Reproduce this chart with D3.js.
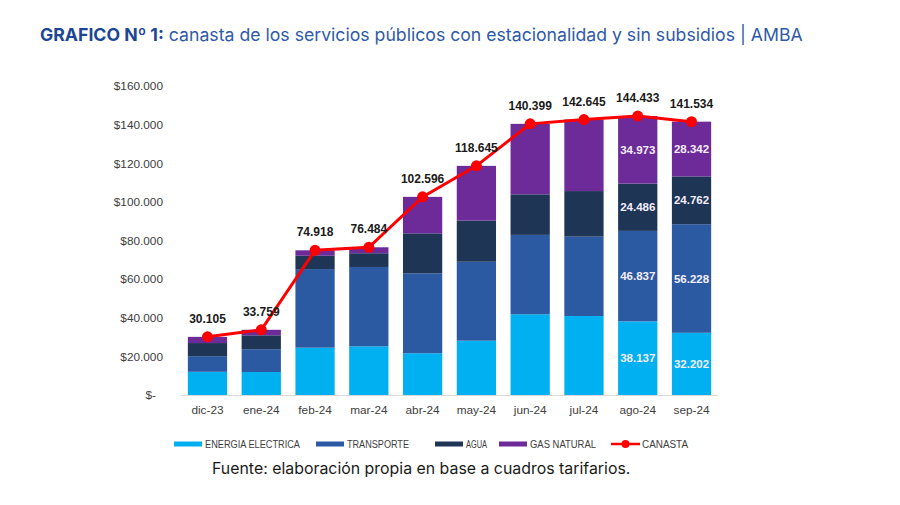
<!DOCTYPE html>
<html>
<head>
<meta charset="utf-8">
<script src="https://cdn.jsdelivr.net/npm/d3@7/dist/d3.min.js"></script>
<style>
  html, body { margin: 0; padding: 0; background: #fff; }
  svg { display: block; }
</style>
</head>
<body>
<div id="chart"></div>
<script>
// ---- data ----
var months = ['dic-23','ene-24','feb-24','mar-24','abr-24','may-24','jun-24','jul-24','ago-24','sep-24'];
var energia    = [12.0, 11.9, 24.5, 25.2, 21.6, 28.1, 41.8, 40.9, 38.137, 32.202];
var transporte = [8.1, 11.8, 40.7, 41.1, 41.4, 40.9, 41.1, 41.1, 46.837, 56.228];
var agua       = [6.8, 7.2, 6.9, 7.1, 20.7, 21.3, 21.0, 23.6, 24.486, 24.762];
var gas        = [3.205, 2.859, 2.818, 3.084, 18.896, 28.345, 36.499, 37.045, 34.973, 28.342];
var canasta    = [30.105, 33.759, 74.918, 76.484, 102.596, 118.645, 140.399, 142.645, 144.433, 141.534];
var yTicks = [0, 20, 40, 60, 80, 100, 120, 140, 160];
var labelledMonths = ['ago-24', 'sep-24'];   // only these show segment values

var seriesNames = ['ENERGIA ELECTRICA', 'TRANSPORTE', 'AGUA', 'GAS NATURAL'];
var seriesData = [energia, transporte, agua, gas];
var colors = ['#00b0f0', '#2b5aa3', '#1e3555', '#6c2b99'];
var RED = '#ff0000';

var W = 900, H = 505;
var svg = d3.select('#chart').append('svg').attr('width', W).attr('height', H);

var fmt = function (v) { return d3.format(',.3f')(v).replace(',', '.'); };  // 30.105 style
var fmtTick = function (v) { return v === 0 ? '$-' : '$' + v + '.000'; };

// fit a text node to a target width by adjusting font-size
function fitWidth(sel, target) {
  var w = sel.node().getComputedTextLength();
  var fs = parseFloat(sel.attr('font-size'));
  sel.attr('font-size', fs * target / w);
}

// ---- title ----
var title = svg.append('text').attr('x', 40).attr('y', 41)
  .attr('font-family', 'Inter, "Noto Sans", sans-serif').attr('font-size', 16);
title.append('tspan').attr('font-weight', 700).attr('fill', '#1d4694').text('GRAFICO Nº 1:');
title.append('tspan').attr('fill', '#2f5aa8').text(' canasta de los servicios públicos con estacionalidad y sin subsidios | AMBA');
fitWidth(title, 763);

// ---- scales ----
var x = d3.scaleBand().domain(months).range([187.85, 711.15]).paddingInner(0.27).paddingOuter(0);
var y = d3.scaleLinear().domain([0, 160]).range([395, 86]);

// y axis labels
var yAxis = svg.append('g').attr('transform', 'translate(163,0)')
  .call(d3.axisLeft(y).tickValues(yTicks).tickFormat(fmtTick).tickSize(0).tickPadding(0));
yAxis.select('.domain').remove();
yAxis.selectAll('text')
  .attr('font-family', '"Liberation Sans", Arial, sans-serif').attr('font-size', 11.8)
  .attr('fill', '#404040')
  .attr('dx', function (d) { return d === 0 ? -7 : 0; });

// ---- stacked bars ----
var rows = months.map(function (m, i) {
  var r = { month: m };
  seriesNames.forEach(function (s, k) { r[s] = seriesData[k][i]; });
  return r;
});
var stack = d3.stack().keys(seriesNames)(rows);

var layers = svg.append('g').selectAll('g').data(stack).join('g')
  .attr('fill', function (d, i) { return colors[i]; });
layers.selectAll('rect').data(function (d) { return d; }).join('rect')
  .attr('x', function (d) { return x(d.data.month); })
  .attr('width', x.bandwidth())
  .attr('y', function (d) { return y(d[1]); })
  .attr('height', function (d) { return y(d[0]) - y(d[1]); });

// segment value labels (ago-24, sep-24)
layers.selectAll('text').data(function (d) {
  return d.filter(function (p) { return labelledMonths.indexOf(p.data.month) >= 0; })
    .map(function (p) { return { p: p, key: d.key }; });
}).join('text')
  .attr('x', function (d) { return x(d.p.data.month) + x.bandwidth() / 2; })
  .attr('y', function (d) { return (y(d.p[0]) + y(d.p[1])) / 2; })
  .attr('dy', '0.36em')
  .attr('text-anchor', 'middle')
  .attr('font-family', '"Liberation Sans", Arial, sans-serif').attr('font-size', 11.5)
  .attr('font-weight', 700).attr('fill', '#f4eefc')
  .text(function (d) { return fmt(d.p.data[d.key]); });

// baseline
svg.append('line').attr('x1', 181).attr('x2', 718).attr('y1', y(0) + 0.5).attr('y2', y(0) + 0.5)
  .attr('stroke', '#d9d9d9').attr('stroke-width', 1);

// x axis labels
var xAxis = svg.append('g').attr('transform', 'translate(0,' + y(0) + ')')
  .call(d3.axisBottom(x).tickSize(0).tickPadding(11));
xAxis.select('.domain').remove();
xAxis.selectAll('text')
  .attr('font-family', '"Liberation Sans", Arial, sans-serif').attr('font-size', 11.8)
  .attr('fill', '#404040');

// ---- canasta line ----
var cx = function (d, i) { return x(months[i]) + x.bandwidth() / 2; };
svg.append('path').datum(canasta)
  .attr('d', d3.line().x(cx).y(function (d) { return y(d); }))
  .attr('fill', 'none').attr('stroke', RED).attr('stroke-width', 3);
svg.append('g').selectAll('circle').data(canasta).join('circle')
  .attr('cx', cx).attr('cy', function (d) { return y(d); }).attr('r', 5.5).attr('fill', RED);
svg.append('g').selectAll('text').data(canasta).join('text')
  .attr('x', cx).attr('y', function (d) { return y(d) - 14; })
  .attr('text-anchor', 'middle')
  .attr('font-family', '"Liberation Sans", Arial, sans-serif').attr('font-size', 12)
  .attr('font-weight', 700).attr('fill', '#1a1a1a')
  .text(function (d) { return fmt(d); });

// ---- legend ----
var legItems = [
  { name: 'ENERGIA ELECTRICA', color: colors[0], x: 174, tw: 95 },
  { name: 'TRANSPORTE', color: colors[1], x: 316, tw: 62 },
  { name: 'AGUA', color: colors[2], x: 435, tw: 21 },
  { name: 'GAS NATURAL', color: colors[3], x: 499, tw: 66 },
  { name: 'CANASTA', color: RED, x: 611, tw: 46, line: true }
];
var leg = svg.append('g').attr('font-family', '"Liberation Sans", Arial, sans-serif');
legItems.forEach(function (it) {
  var g = leg.append('g').attr('transform', 'translate(' + it.x + ',444)');
  if (it.line) {
    g.append('line').attr('x1', 0).attr('x2', 29).attr('y1', 0).attr('y2', 0)
      .attr('stroke', RED).attr('stroke-width', 2.5);
    g.append('circle').attr('cx', 14.5).attr('cy', 0).attr('r', 4).attr('fill', RED);
  } else {
    g.append('rect').attr('x', 0).attr('y', -2.5).attr('width', 28).attr('height', 5).attr('fill', it.color);
  }
  var t = g.append('text').attr('x', 31).attr('y', 0).attr('dy', '0.35em')
    .attr('font-size', 10).attr('fill', '#404040').text(it.name);
  t.attr('textLength', it.tw).attr('lengthAdjust', 'spacingAndGlyphs');
});

// ---- source ----
var src = svg.append('text').attr('x', 212).attr('y', 474)
  .attr('font-family', 'Inter, "Noto Sans", sans-serif').attr('font-size', 14)
  .attr('fill', '#1a1a1a').text('Fuente: elaboración propia en base a cuadros tarifarios.');
fitWidth(src, 419);
</script>
</body>
</html>
